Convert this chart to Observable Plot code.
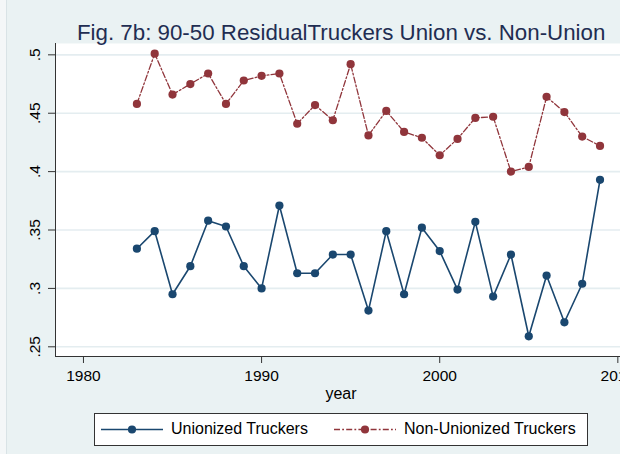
<!DOCTYPE html>
<html><head><meta charset="utf-8">
<script src="https://cdn.jsdelivr.net/npm/d3@7"></script>
<script src="https://cdn.jsdelivr.net/npm/@observablehq/plot@0.6"></script>
<style>
html,body{margin:0;padding:0;overflow:hidden;width:620px;height:454px;background:#eaf2f3;font-family:"Liberation Sans",Arial,sans-serif}
#wrap{position:relative;width:620px;height:454px;overflow:hidden}
#strip{position:absolute;left:0;top:0;width:6px;height:454px;background:#f4f7f8;border-right:1px solid #d9e3e6}
#title{position:absolute;left:77px;top:22px;font-size:22.3px;line-height:22px;color:#1f2d52;white-space:nowrap}
#legend{position:absolute;left:94px;top:413px;width:494px;height:33px;box-sizing:border-box;background:#fff;border:1px solid #333}
.lg{position:absolute;top:0;height:31px}
.lt{position:absolute;top:6px;font-size:16px;line-height:18px;color:#000;white-space:nowrap}
#chart{position:absolute;left:0;top:0}
</style></head>
<body>
<div id="wrap">
  <div id="chart"></div>
  <div id="strip"></div>
  <div id="title">Fig. 7b: 90-50 ResidualTruckers Union vs. Non-Union</div>
  <div id="legend"></div>
</div>
<script>
const years = [1983,1984,1985,1986,1987,1988,1989,1990,1991,1992,1993,1994,1995,1996,1997,1998,1999,2000,2001,2002,2003,2004,2005,2006,2007,2008,2009];
const unionized = [.334,.349,.295,.319,.358,.353,.319,.300,.371,.313,.313,.329,.329,.281,.349,.295,.352,.332,.299,.357,.293,.329,.259,.311,.271,.304,.393];
const nonUnion = [.458,.501,.466,.475,.484,.458,.478,.482,.484,.441,.457,.444,.492,.431,.452,.434,.429,.414,.428,.446,.447,.400,.404,.464,.451,.430,.422];
const seriesNames = ["Unionized Truckers","Non-Unionized Truckers"];
const xTicks = [1980,1990,2000,2010];
const yTicks = [.25,.3,.35,.4,.45,.5];
const yLabels = [".25",".3",".35",".4",".45",".5"];

const NAVY = "#1a476f", MAROON = "#90353b";
const DASH = "6,2.2,1.8,2.2";
const rowsU = years.map((y,i)=>({year:y, v:unionized[i]}));
const rowsN = years.map((y,i)=>({year:y, v:nonUnion[i]}));
const yLab = yTicks.map((t,i)=>({t, s:yLabels[i]}));

const chart = Plot.plot({
  width: 620, height: 454,
  marginLeft: 55, marginRight: 0, marginTop: 43, marginBottom: 98,
  style: {background: "transparent", fontFamily: "'Liberation Sans', Arial, sans-serif", overflow: "hidden"},
  x: {domain: [1978.43, 2010.15], axis: null, label: null},
  y: {domain: [0.2417, 0.5097], axis: null, label: null},
  marks: [
    Plot.frame({fill: "white", stroke: null}),
    Plot.ruleY(yTicks, {stroke: "#e4edf0", strokeWidth: 1.6}),
    Plot.axisY({ticks: yTicks, tickSize: 7, tickFormat: () => "", label: null, stroke: "#333", strokeWidth: 1}),
    Plot.text(yLab, {y: "t", text: "s", frameAnchor: "left", dx: -20, rotate: -90, textAnchor: "middle", lineAnchor: "middle", fontSize: 15.5, fill: "#000"}),
    Plot.axisX({ticks: xTicks, tickSize: 7, tickPadding: 6, tickFormat: d => String(d), label: null, fontSize: 15.5, stroke: "#333", fill: "#000"}),
    Plot.ruleX([1978.43], {stroke: "#333", strokeWidth: 1}),
    Plot.ruleY([0.2417], {stroke: "#333", strokeWidth: 1}),
    Plot.text(["year"], {frameAnchor: "bottom", dx: 3, dy: 42, fontSize: 16, fill: "#000"}),
    Plot.line(rowsN, {x: "year", y: "v", stroke: MAROON, strokeWidth: 1.3, strokeDasharray: DASH}),
    Plot.dot(rowsN, {x: "year", y: "v", r: 4.1, fill: MAROON, stroke: null}),
    Plot.line(rowsU, {x: "year", y: "v", stroke: NAVY, strokeWidth: 1.6}),
    Plot.dot(rowsU, {x: "year", y: "v", r: 4.1, fill: NAVY, stroke: null})
  ]
});
document.getElementById("chart").appendChild(chart);

// legend
const lg = document.getElementById("legend");
const entries = [
  {name: seriesNames[0], color: NAVY, dash: null, sx: 6, tx: 76},
  {name: seriesNames[1], color: MAROON, dash: DASH, sx: 239, tx: 309}
];
for (const e of entries) {
  const s = d3.create("svg").attr("class","lg").attr("width",62).attr("height",31).style("left", e.sx+"px");
  s.append("line").attr("x1",0).attr("x2",62).attr("y1",15.5).attr("y2",15.5)
    .attr("stroke", e.color).attr("stroke-width", e.dash ? 1.3 : 1.6).attr("stroke-dasharray", e.dash);
  s.append("circle").attr("cx",31).attr("cy",15.5).attr("r",4.1).attr("fill", e.color);
  lg.appendChild(s.node());
  const t = document.createElement("div");
  t.className = "lt"; t.style.left = e.tx+"px"; t.textContent = e.name;
  lg.appendChild(t);
}
</script>
</body></html>
